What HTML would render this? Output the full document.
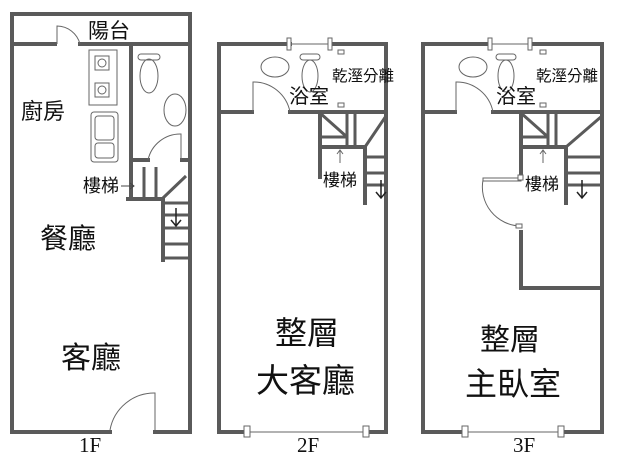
<!DOCTYPE html><html><head><style>body{margin:0;background:#fff}svg{display:block}text{font-family:"Liberation Sans","Noto Sans CJK TC",sans-serif;fill:#111}text.s{font-family:"Liberation Serif",serif}</style></head><body>
<svg width="638" height="460" viewBox="0 0 638 460">
<g stroke="#5a5a5a" stroke-width="4" fill="none" stroke-linecap="square">
<path d="M12 432 V14 H190 V432 H155 M110 432 H12"/>
<path d="M12 44 H55 M80 44 H190"/>
<path d="M131 44 V198 M131 160 H148 M182 160 H190"/>
<path d="M128 199 H163 V260"/>
</g>
<g stroke="#5a5a5a" stroke-width="3" fill="none">
<path d="M144 167 V198 M156 167 V198 M163 198 L186 176 M163 203 H190 M163 215 H190 M163 228 H190 M163 244 H190 M163 258 H190"/>
</g>
<g stroke="#666" stroke-width="1" fill="none">
<path d="M57 44 V26 A24 24 0 0 1 80 44"/>
<path d="M148 160 A33 33 0 0 1 181 134 V160"/>
<path d="M110 430 A45 45 0 0 1 155 393 V430"/>
<rect x="89" y="50" width="28" height="55"/>
<rect x="95" y="56" width="14" height="14"/><circle cx="102" cy="63" r="4"/>
<rect x="95" y="83" width="14" height="14"/><circle cx="102" cy="90" r="4"/>
<rect x="91" y="112" width="27" height="50" rx="3"/>
<rect x="95" y="116" width="19" height="24" rx="3"/><rect x="95" y="143" width="19" height="15" rx="3"/>
<ellipse cx="149" cy="76" rx="9" ry="17"/><rect x="138" y="54" width="22" height="6" rx="3"/>
<ellipse cx="175" cy="110" rx="11" ry="16"/>
</g>
<g stroke="#5a5a5a" stroke-width="4" fill="none" stroke-linecap="square">
<path d="M219 432 V44 H290 M330 44 H386 V432 H368 M248 432 H219"/>
<path d="M219 112 H252 M290 112 H386"/>
<path d="M320 112 V177 M320 147 H365 M365 147 V203"/>
</g>
<g stroke="#5a5a5a" stroke-width="3" fill="none">
<path d="M347 112 V147 M355 112 V147 M320 137 H347 M320 113 L347 137 M365 147 L386 116 M365 157 H386 M365 173 H386 M365 185 H386"/>
</g>
<g stroke="#666" stroke-width="1" fill="none">
<path d="M290 44 H330 M248 432 H368"/>
<path d="M253 112 V82 A37 37 0 0 1 290 112"/>
<ellipse cx="275" cy="67" rx="14" ry="10"/>
<ellipse cx="310" cy="76" rx="8" ry="16"/><rect x="300" y="54" width="20" height="6" rx="3"/>
<path d="M340 163 V150 M337 154 L340 150 L343 154"/>
</g>
<g fill="#fff" stroke="#666" stroke-width="1">
<rect x="287" y="38" width="4" height="12"/><rect x="328" y="38" width="4" height="12"/>
<rect x="244" y="426" width="6" height="11"/><rect x="363" y="426" width="6" height="11"/>
<rect x="338" y="50" width="6" height="4"/><rect x="338" y="103" width="6" height="4"/>
</g>
<path d="M381 180 V198 M376 192 L381 198 L386 192" stroke="#222" stroke-width="1.5" fill="none"/>
<g stroke="#5a5a5a" stroke-width="4" fill="none" stroke-linecap="square">
<path d="M423 432 V44 H490 M530 44 H602 V432 H563 M465 432 H423"/>
<path d="M423 112 H455 M493 112 H602"/>
<path d="M521 112 V177 M521 147 H566 M566 147 V203 M521 232 V288 H602"/>
</g>
<g stroke="#5a5a5a" stroke-width="3" fill="none">
<path d="M548 112 V147 M556 112 V147 M521 137 H548 M521 113 L548 137 M566 147 L602 116 M566 157 H602 M566 173 H602 M566 185 H602"/>
</g>
<g stroke="#666" stroke-width="1" fill="none">
<path d="M490 44 H530 M465 432 H563"/>
<path d="M456 112 V82 A37 37 0 0 1 493 112"/>
<ellipse cx="473" cy="67" rx="14" ry="10"/>
<ellipse cx="506" cy="76" rx="8" ry="16"/><rect x="496" y="54" width="20" height="6" rx="3"/>
<path d="M543 163 V150 M540 154 L543 150 L546 154"/>
<path d="M483 180 A39 39 0 0 0 520 226"/>
</g>
<g fill="#fff" stroke="#666" stroke-width="1">
<rect x="488" y="38" width="4" height="12"/><rect x="528" y="38" width="4" height="12"/>
<rect x="462" y="426" width="6" height="11"/><rect x="558" y="426" width="6" height="11"/>
<rect x="540" y="50" width="6" height="4"/><rect x="540" y="103" width="6" height="4"/>
<rect x="483" y="178" width="38" height="3"/><rect x="516" y="224" width="6" height="4"/><rect x="518" y="175" width="5" height="5"/>
</g>
<path d="M582 180 V198 M577 192 L582 198 L587 192" stroke="#222" stroke-width="1.5" fill="none"/>
<path d="M176 208 V226 M171 220 L176 226 L181 220" stroke="#222" stroke-width="1.5" fill="none"/>
<path d="M121 186 H134 M130 183 L134 186 L130 189" stroke="#444" stroke-width="1" fill="none"/>
<text x="88" y="38" font-size="21">陽台</text>
<text x="21" y="119" font-size="22">廚房</text>
<text x="83" y="192" font-size="18" fill="#444">樓梯</text>
<text x="40" y="248" font-size="28">餐廳</text>
<text x="61" y="368" font-size="30">客廳</text>
<text x="289" y="103" font-size="20">浴室</text>
<text x="332" y="81" font-size="15.5">乾溼分離</text>
<text x="323" y="186" font-size="17" fill="#444">樓梯</text>
<text x="275" y="344" font-size="32">整層</text>
<text x="256" y="392" font-size="33">大客廳</text>
<text x="496" y="103" font-size="20">浴室</text>
<text x="536" y="81" font-size="15.5">乾溼分離</text>
<text x="525" y="190" font-size="17" fill="#444">樓梯</text>
<text x="480" y="350" font-size="30">整層</text>
<text x="465" y="395" font-size="32">主臥室</text>
<text class="s" x="79" y="452" font-size="21">1F</text>
<text class="s" x="297" y="452" font-size="21">2F</text>
<text class="s" x="513" y="452" font-size="21">3F</text>
</svg></body></html>
